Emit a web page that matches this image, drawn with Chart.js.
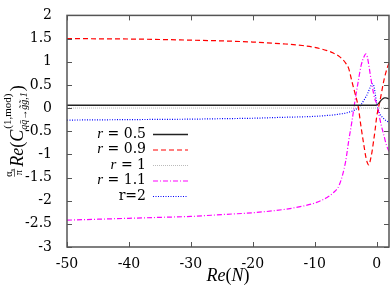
<!DOCTYPE html>
<html>
<head>
<meta charset="utf-8">
<script src="https://cdn.jsdelivr.net/npm/chart.js@4.4.1/dist/chart.umd.min.js"></script>
<style>
html, body { margin: 0; padding: 0; background: #fff; }
#wrap { width: 390px; height: 287px; }
</style>
</head>
<body>
<div id="wrap"><canvas id="c" width="390" height="287"></canvas></div>
<script>
// Re(N) sample points (denser near the oscillation at N ~ 0)
const nVals = [-50, -45, -40, -35, -30, -25, -20, -15, -12, -10, -8, -7, -6, -5, -4.5, -4, -3.5, -3, -2.5, -2,
               -1.75, -1.5, -1.25, -1, -0.75, -0.5, -0.25, 0, 0.25, 0.5, 0.75, 1, 1.25, 1.5, 1.75, 2];

const r05 = [0.06, 0.06, 0.06, 0.06, 0.06, 0.06, 0.06, 0.06, 0.06, 0.06, 0.06, 0.06, 0.06, 0.06, 0.06, 0.06, 0.06, 0.06, 0.06, 0.06,
             0.06, 0.06, 0.06, 0.06, 0.06, 0.06, 0.06, 0.07, 0.09, 0.13, 0.17, 0.2, 0.22, 0.22, 0.21, 0.2];
const r09 = [1.5, 1.495, 1.49, 1.48, 1.465, 1.45, 1.425, 1.385, 1.35, 1.31, 1.24, 1.19, 1.11, 0.97, 0.85, 0.58, 0.32, 0.05, -0.42, -0.85,
             -1.05, -1.18, -1.23, -1.12, -0.95, -0.72, -0.48, -0.2, -0.02, 0.13, 0.3, 0.48, 0.64, 0.77, 0.88, 0.97];
const r10 = [0, 0, 0, 0, 0, 0, 0, 0, 0, 0, 0, 0, 0, 0, 0, 0, 0, 0, 0, 0,
             0, 0, 0, 0, 0, 0, 0, 0, 0, 0, 0, 0, 0, 0, 0, 0];
const r11 = [-2.42, -2.4, -2.38, -2.36, -2.34, -2.3, -2.26, -2.19, -2.12, -2.05, -1.93, -1.83, -1.65, -1.15, -0.7, -0.3, 0.15, 0.55, 0.92, 1.12,
             1.17, 1.1, 0.92, 0.7, 0.5, 0.32, 0.18, 0.1, -0.05, -0.22, -0.37, -0.5, -0.63, -0.76, -0.86, -0.94];
const r20 = [-0.26, -0.255, -0.25, -0.245, -0.24, -0.23, -0.22, -0.2, -0.19, -0.18, -0.16, -0.15, -0.13, -0.11, -0.09, -0.07, -0.04, 0.01, 0.08, 0.18,
             0.24, 0.3, 0.38, 0.46, 0.52, 0.5, 0.33, 0.1, -0.03, -0.12, -0.17, -0.21, -0.24, -0.27, -0.29, -0.31];

const xTicks = [-50, -40, -30, -20, -10, 0];
const yTicks = [-3, -2.5, -2, -1.5, -1, -0.5, 0, 0.5, 1, 1.5, 2];
const legendLabels = ['r = 0.5', 'r = 0.9', 'r = 1', 'r = 1.1', 'r=2'];

const SERIF = '"Liberation Serif", "DejaVu Serif", serif';
const NUMF = '"DejaVu Serif", "Liberation Serif", serif';

function pts(ys) {
    return nVals.map((x, i) => ({ x: x, y: ys[i] }));
}

function ds(label, ys, color, dash, width) {
    return {
        label: label,
        data: pts(ys),
        borderColor: color,
        borderWidth: width,
        borderDash: dash,
        pointRadius: 0,
        fill: false,
        cubicInterpolationMode: 'monotone'
    };
}

// frame, inward ticks on all four sides
const framePlugin = {
    id: 'frame',
    afterDraw(chart) {
        const ctx = chart.ctx;
        const a = chart.chartArea;
        const xs = chart.scales.x, ys = chart.scales.y;
        ctx.save();
        ctx.strokeStyle = '#555';
        ctx.lineWidth = 1;
        ctx.beginPath();
        xTicks.forEach(v => {
            const px = Math.round(xs.getPixelForValue(v)) + 0.5;
            ctx.moveTo(px, a.bottom); ctx.lineTo(px, a.bottom - 5);
            ctx.moveTo(px, a.top); ctx.lineTo(px, a.top + 5);
        });
        yTicks.forEach(v => {
            const py = Math.round(ys.getPixelForValue(v)) + 0.5;
            ctx.moveTo(a.left, py); ctx.lineTo(a.left + 5, py);
            ctx.moveTo(a.right, py); ctx.lineTo(a.right - 5, py);
        });
        ctx.stroke();
        ctx.lineWidth = 1.5;
        ctx.strokeRect(a.left, a.top, a.right - a.left, a.bottom - a.top);
        ctx.restore();
    }
};

// gnuplot-like key: right aligned text, line sample to the right
const keyPlugin = {
    id: 'key',
    afterDraw(chart) {
        const ctx = chart.ctx;
        ctx.save();
        chart.data.datasets.forEach((d, i) => {
            const y = 134 + i * 15.5;
            const txt = legendLabels[i];
            ctx.fillStyle = '#000';
            ctx.textBaseline = 'middle';
            ctx.textAlign = 'left';
            let wR = 0, rest = txt;
            const italicR = txt.indexOf(' ') > 0;
            if (italicR) {
                rest = txt.slice(1);
                ctx.font = 'italic 15px ' + SERIF;
                wR = ctx.measureText('r').width;
            }
            ctx.font = '14px ' + NUMF;
            const wRest = ctx.measureText(rest).width;
            const x0 = 146 - wR - wRest;
            if (italicR) {
                ctx.font = 'italic 15px ' + SERIF;
                ctx.fillText('r', x0, y);
                ctx.font = '14px ' + NUMF;
            }
            ctx.fillText(rest, x0 + wR, y);
            ctx.strokeStyle = d.borderColor;
            ctx.lineWidth = d.borderWidth;
            ctx.setLineDash(d.borderDash || []);
            ctx.beginPath();
            ctx.moveTo(153, y + 0.5);
            ctx.lineTo(188, y + 0.5);
            ctx.stroke();
            ctx.setLineDash([]);
        });
        ctx.restore();
    }
};

// rotated y title: (alpha_s/pi) Re(C^(1,mod)_{qqbar->gg,1})
const yTitlePlugin = {
    id: 'ytitle',
    afterDraw(chart) {
        const ctx = chart.ctx;
        ctx.save();
        ctx.fillStyle = '#000';
        ctx.strokeStyle = '#000';
        const fMain = 'italic 18px ' + SERIF;
        const fUp = '18px ' + SERIF;
        const fSup = '11px ' + SERIF;
        const fSub = 'italic 10px ' + SERIF;
        const fFrac = '10px ' + SERIF;
        const fFracS = '7px ' + SERIF;
        const w = (f, t) => { ctx.font = f; return ctx.measureText(t).width; };
        const sub = 'qq\u0304→g\u0303g\u0303,1';
        const wFrac = Math.max(w(fFrac, 'α') + w(fFracS, 's'), w(fFrac, 'π'));
        const wSS = Math.max(w(fSup, '(1,mod)'), w(fSub, sub));
        const total = wFrac + 2 + w(fMain, 'Re') + w(fUp, '(') + w(fMain, 'C') + wSS + 1 + w(fUp, ')');
        const startY = 131 + total / 2;
        const base = 23;
        ctx.translate(0, startY);
        ctx.rotate(-Math.PI / 2);
        ctx.textBaseline = 'alphabetic';
        let p = 0;
        // fraction
        const nw = w(fFrac, 'α') + w(fFracS, 's');
        let q = p + (wFrac - nw) / 2;
        ctx.font = fFrac; ctx.fillText('α', q, 12);
        q += w(fFrac, 'α');
        ctx.font = fFracS; ctx.fillText('s', q, 13.5);
        ctx.lineWidth = 0.6;
        ctx.beginPath(); ctx.moveTo(p, 14.5); ctx.lineTo(p + wFrac, 14.5); ctx.stroke();
        ctx.font = fFrac; ctx.fillText('π', p + (wFrac - w(fFrac, 'π')) / 2, 21.5);
        p += wFrac + 2;
        ctx.font = fMain; ctx.fillText('Re', p, base); p += w(fMain, 'Re');
        ctx.font = fUp; ctx.fillText('(', p, base); p += w(fUp, '(');
        ctx.font = fMain; ctx.fillText('C', p, base); p += w(fMain, 'C');
        ctx.font = fSup; ctx.fillText('(1,mod)', p + 1, base - 12);
        ctx.font = fSub; ctx.fillText(sub, p, base + 4);
        p += wSS + 1;
        ctx.font = fUp; ctx.fillText(')', p, base);
        ctx.restore();
    }
};

const xTitlePlugin = {
    id: 'xtitle',
    afterDraw(chart) {
        const ctx = chart.ctx;
        const a = chart.chartArea;
        ctx.save();
        ctx.fillStyle = '#000';
        ctx.textBaseline = 'alphabetic';
        const fi = 'italic 18px ' + SERIF, fu = '18px ' + SERIF;
        const parts = [['Re', fi], ['(', fu], ['N', fi], [')', fu]];
        let tw = 0;
        parts.forEach(pp => { ctx.font = pp[1]; tw += ctx.measureText(pp[0]).width; });
        let x = (a.left + a.right) / 2 - tw / 2;
        parts.forEach(pp => {
            ctx.font = pp[1];
            ctx.fillText(pp[0], x, 281);
            x += ctx.measureText(pp[0]).width;
        });
        ctx.restore();
    }
};

const ctx = document.getElementById('c').getContext('2d');
new Chart(ctx, {
    type: 'line',
    data: {
        datasets: [
            ds('r = 0.5', r05, '#222222', [], 1.3),
            ds('r = 0.9', r09, '#ff0000', [5, 3], 1.2),
            ds('r = 1', r10, '#aaaaaa', [1, 1], 0.8),
            ds('r = 1.1', r11, '#ff00ff', [5, 2, 1, 2], 1.2),
            ds('r=2', r20, '#0000ff', [1, 1.5], 1.2)
        ]
    },
    options: {
        responsive: false,
        animation: false,
        events: [],
        layout: { padding: { top: 6, right: 1, left: 0, bottom: 0 } },
        plugins: {
            legend: { display: false },
            tooltip: { enabled: false }
        },
        scales: {
            x: {
                type: 'linear',
                min: -50,
                max: 2,
                afterBuildTicks: s => { s.ticks = xTicks.map(v => ({ value: v })); },
                afterFit: s => { s.height = 40; },
                grid: { display: false },
                border: { display: false },
                ticks: { color: '#000', padding: 1, maxRotation: 0, font: { family: NUMF, size: 14 } }
            },
            y: {
                type: 'linear',
                min: -3,
                max: 2,
                afterBuildTicks: s => { s.ticks = yTicks.map(v => ({ value: v })); },
                afterFit: s => { s.width = 67; },
                grid: { display: false },
                border: { display: false },
                ticks: { color: '#000', padding: 7, font: { family: NUMF, size: 14 }, callback: v => String(v) }
            }
        }
    },
    plugins: [framePlugin, keyPlugin, yTitlePlugin, xTitlePlugin]
});
</script>
</body>
</html>
